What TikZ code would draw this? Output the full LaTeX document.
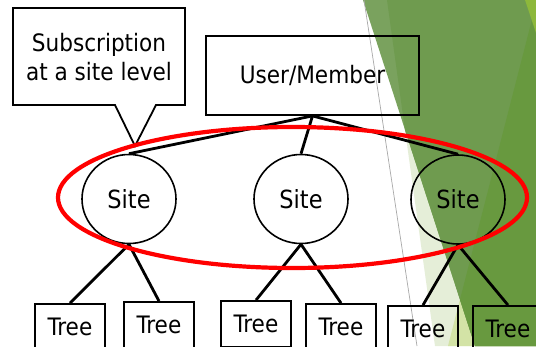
\documentclass[tikz,border=0pt]{standalone}
\usepackage{fontspec}
\setmainfont{DejaVu Sans Condensed}
\usetikzlibrary{shapes.geometric}
\definecolor{gA}{HTML}{7AA25E}
\definecolor{gB}{HTML}{6F9B4F}
\definecolor{gC}{HTML}{68993F}
\definecolor{paleg}{HTML}{E5EED8}
\definecolor{yelg}{HTML}{D3E3A6}
\definecolor{brightg}{HTML}{8DB83B}
\definecolor{grayl}{HTML}{A8A8A8}
\tikzset{
  txt/.style={font=\fontsize{24}{29}\selectfont, inner sep=0pt},
  boxnode/.style={txt, draw=black, line width=1.8pt, rectangle},
  sitenode/.style={txt, draw=black, line width=1.6pt, ellipse, minimum width=94pt, minimum height=89pt, font=\fontsize{25}{29}\selectfont},
  treenode/.style={boxnode, minimum width=70pt, minimum height=46pt},
  conn/.style={draw=black, line width=2.8pt},
  ring/.style={draw=red, line width=4.2pt}
}
\begin{document}
\begin{tikzpicture}[x=1pt,y=-1pt]
\clip (0,0) rectangle (536,346);
\fill[white] (0,0) rectangle (536,346);
% background decoration
\fill[paleg] (387,0) -- (537,0) -- (537,346) -- (435,346) -- cycle;
\fill[yelg] (537,0) -- (537,346) -- (448,346) -- cycle;
\fill[gA] (363,0) -- (537,0) -- (537,346) -- (475,346) -- cycle;
\fill[gB] (387,0) -- (537,0) -- (537,346) -- (475,346) -- (405,130) -- cycle;
\fill[gC] (537,0) -- (537,346) -- (475,346) -- (460,299.5) -- cycle;
\fill[brightg] (525,0) -- (537,0) -- (537,36) -- cycle;
\draw[grayl, line width=0.7pt] (364,0) -- (417,346);
% callout
\draw[line width=1.8pt, line join=miter] (13,8) -- (185,8) -- (185,105) -- (156,105) -- (135,146) -- (115,105) -- (13,105) -- cycle;
\node[txt, align=center] (sub) at (99,57.5) {Subscription\\at a site level};
% user
\node[boxnode, minimum width=213pt, minimum height=79pt] (user) at (312.5,75.5) {User/Member};
% sites
\node[sitenode] (s1) at (129,199) {Site};
\node[sitenode] (s2) at (301,199) {Site};
\node[sitenode] (s3) at (458,199.5) {Site};
% trees
\node[treenode] (t1) at (70,327) {Tree};
\node[treenode] (t2) at (159,325) {Tree};
\node[treenode] (t3) at (256,324) {Tree};
\node[treenode] (t4) at (341,327) {Tree};
\node[treenode] (t5) at (423,329) {Tree};
\node[treenode] (t6) at (508,329) {Tree};
% connectors
\draw[conn] (user.south) -- (s1.north);
\draw[conn] (user.south) -- (s2.north);
\draw[conn] (user.south) -- (s3.north);
\draw[conn] (s1.south) -- (t1.north);
\draw[conn] (s1.south) -- (t2.north);
\draw[conn] (s2.south) -- (t3.north);
\draw[conn] (s2.south) -- (t4.north);
\draw[conn] (s3.south) -- (t5.north);
\draw[conn] (s3.south) -- (t6.north);
% red ring
\draw[ring] (292.5,197.5) ellipse [x radius=234.5pt, y radius=70.5pt];
\end{tikzpicture}
\end{document}
